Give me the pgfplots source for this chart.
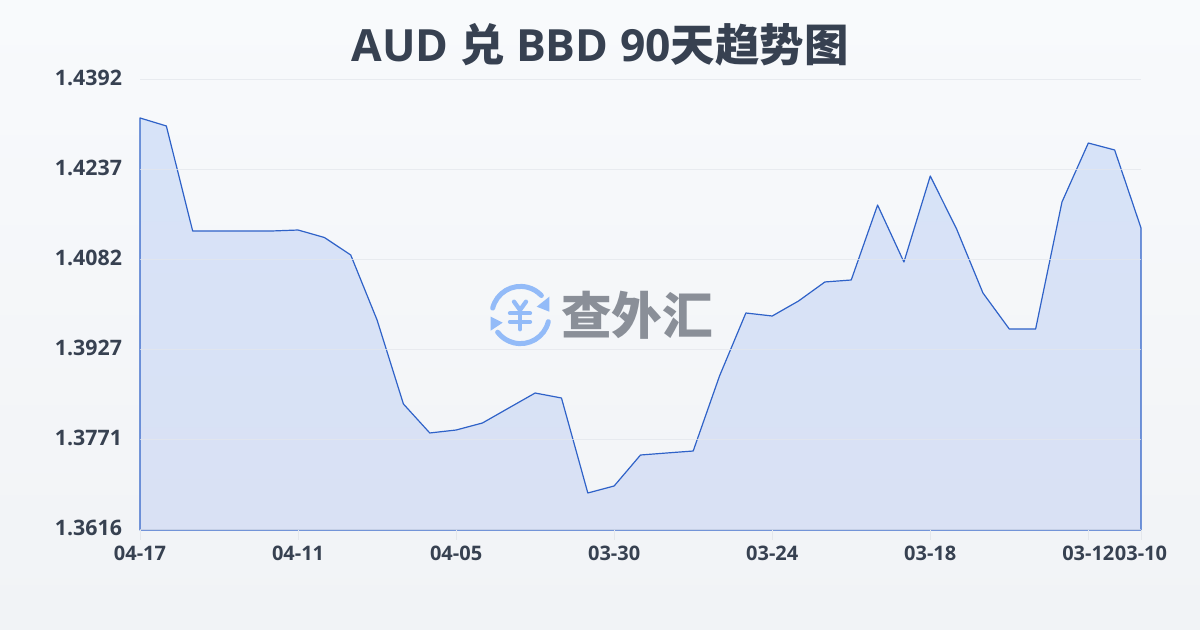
\documentclass[border=0pt]{standalone}
\usepackage{fontspec}
\usepackage{pgfplots}
\pgfplotsset{compat=1.18}
\setmainfont{Open Sans}
\newfontfamily\cjk{Noto Sans CJK SC}
\definecolor{tickc}{HTML}{374151}
\definecolor{titlec}{HTML}{374151}
\definecolor{gridc}{HTML}{E4E7EC}
\definecolor{linec}{HTML}{2F62C8}
\definecolor{logoblue}{HTML}{93BBF8}
\definecolor{logogray}{HTML}{8A8F98}
\definecolor{bgtop}{HTML}{F8FAFC}
\definecolor{bgbot}{HTML}{F1F3F6}
\definecolor{filltop}{HTML}{D7E3F8}
\definecolor{fillbot}{HTML}{D9E1F4}
\pgfplotstableread{
idx val
0 1.43265
1 1.43127
2 1.41316
3 1.41316
4 1.41316
5 1.41316
6 1.41333
7 1.41204
8 1.40902
9 1.39781
10 1.38333
11 1.37833
12 1.37884
13 1.38005
14 1.38264
15 1.38522
16 1.38436
17 1.36798
18 1.36919
19 1.37453
20 1.37488
21 1.37522
22 1.38816
23 1.39902
24 1.39850
25 1.40109
26 1.40437
27 1.40471
28 1.41764
29 1.40781
30 1.42264
31 1.41350
32 1.40247
33 1.39626
34 1.39626
35 1.41816
36 1.42833
37 1.42713
38 1.41368
}\rates
\begin{document}
\begin{tikzpicture}[x=0.75pt,y=0.75pt]
\path[use as bounding box] (0,0) rectangle (1200,630);
\shade[top color=bgtop,bottom color=bgbot] (0,0) rectangle (1200,630);
\begin{axis}[
  at={(105pt,75pt)},anchor=south west,
  scale only axis,width=750.75pt,height=337.5pt,
  xmin=0,xmax=38,ymin=1.3616,ymax=1.4392,
  axis lines=none,
  clip=false,
  xtick=\empty,ytick=\empty,
]
\addplot[draw=linec,line width=0.9pt,top color=filltop,bottom color=fillbot,line join=round] table[x=idx,y=val]{\rates} \closedcycle;
\end{axis}
\begin{axis}[
  at={(105pt,75pt)},anchor=south west,
  scale only axis,width=750.75pt,height=337.5pt,
  xmin=0,xmax=38,ymin=1.3616,ymax=1.4392,
  axis x line=bottom,axis y line=left,
  axis line style={draw=none},
  ytick={1.3616,1.37712,1.39264,1.40816,1.42368,1.4392},
  yticklabels={1.3616,1.3771,1.3927,1.4082,1.4237,1.4392},
  xtick={0,6,12,18,24,30,36,38},
  xticklabels={04-17,04-11,04-05,03-30,03-24,03-18,03-12,03-10},
  ymajorgrids,
  grid style={gridc,line width=0.75pt,opacity=0.75},
  major tick length=7.5pt,
  ytick style={draw=none},
  xtick style={gridc,line width=0.75pt},
  x tick label style={font=\bfseries\fontsize{15}{18}\selectfont,text=tickc,yshift=-1pt},
  y tick label style={font=\bfseries\fontsize{16}{18}\selectfont,text=tickc,xshift=-2.5pt,yshift=1.5pt},
  tick align=outside,
]
\addplot[draw=none] coordinates {(0,1.3616)};
\end{axis}
\node[text=titlec,inner sep=0pt] at (600,585) {\fontsize{33.3}{40}\selectfont\bfseries AUD {\cjk 兑} BBD 90{\cjk 天趋势图}};
% watermark
\node[font=\cjk\bfseries\fontsize{38}{40}\selectfont,text=logogray,anchor=center] at (637,315) {查外汇};
\begin{scope}[logoblue,line width=3.75pt,line cap=round]
\draw (492.7,321.9) arc[start angle=166,end angle=43,radius=28.6];
\draw (548.3,308.3) arc[start angle=-13.5,end angle=-143,radius=28.6];
\fill (549.3,333.3) -- (549.3,318.3) -- (536.7,323.3) -- cycle;
\fill (490.7,313.3) -- (490.7,299.3) -- (502.7,307.3) -- cycle;
\draw[line width=3.2pt] (514,328.3) -- (520,320) -- (526,328.3);
\draw[line width=3.2pt] (520,320) -- (520,300.7);
\draw[line width=3.2pt] (510,316.7) -- (530,316.7);
\draw[line width=3.2pt] (510,308.3) -- (530,308.3);
\end{scope}
\end{tikzpicture}
\end{document}
